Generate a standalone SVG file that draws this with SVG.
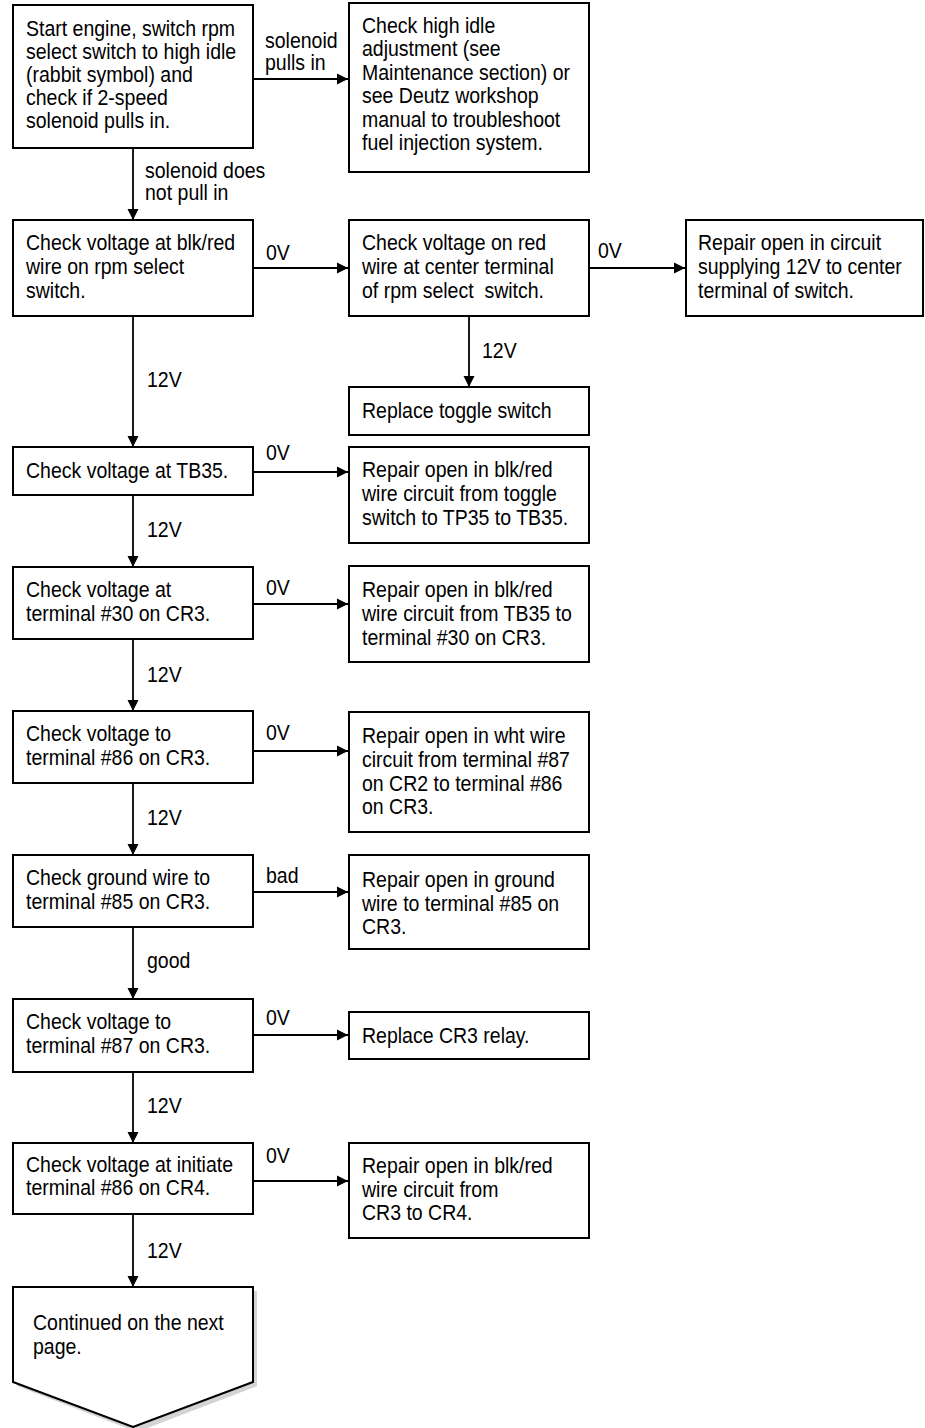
<svg xmlns="http://www.w3.org/2000/svg" width="925" height="1428" viewBox="0 0 925 1428">
<style>
text{font-family:"Liberation Sans",Arial,sans-serif;font-size:21.5px;fill:#000}
.box{fill:#fff;stroke:#000;stroke-width:2}
.c{stroke:#000;stroke-width:1.8;fill:none;marker-end:url(#ah)}
</style>
<defs>
<marker id="ah" markerUnits="userSpaceOnUse" markerWidth="12" markerHeight="12" refX="11" refY="6" orient="auto">
<path d="M0,0.5 L11,6 L0,11.5 z" fill="#000"/>
</marker>
</defs>
<rect width="925" height="1428" fill="#fff"/>
<g id="connectors">
<line class="c" x1="253" y1="79" x2="348" y2="79"/>
<line class="c" x1="133" y1="148" x2="133" y2="220"/>
<line class="c" x1="253" y1="268" x2="348" y2="268"/>
<line class="c" x1="589" y1="268" x2="685" y2="268"/>
<line class="c" x1="469" y1="316" x2="469" y2="387"/>
<line class="c" x1="133" y1="316" x2="133" y2="447"/>
<line class="c" x1="253" y1="472" x2="348" y2="472"/>
<line class="c" x1="133" y1="495" x2="133" y2="567"/>
<line class="c" x1="253" y1="604" x2="348" y2="604"/>
<line class="c" x1="133" y1="639" x2="133" y2="711"/>
<line class="c" x1="253" y1="751" x2="348" y2="751"/>
<line class="c" x1="133" y1="783" x2="133" y2="855"/>
<line class="c" x1="253" y1="892" x2="348" y2="892"/>
<line class="c" x1="133" y1="927" x2="133" y2="999"/>
<line class="c" x1="253" y1="1035" x2="348" y2="1035"/>
<line class="c" x1="133" y1="1072" x2="133" y2="1143"/>
<line class="c" x1="253" y1="1181" x2="348" y2="1181"/>
<line class="c" x1="133" y1="1214" x2="133" y2="1287"/>
<g transform="scale(0.907 1)">
<text x="292.2" y="48">solenoid</text>
<text x="292.2" y="70">pulls in</text>
<text x="159.9" y="178">solenoid does</text>
<text x="159.9" y="200">not pull in</text>
<text x="293.3" y="260">0V</text>
<text x="659.3" y="258">0V</text>
<text x="531.4" y="358">12V</text>
<text x="162.1" y="387">12V</text>
<text x="293.3" y="460">0V</text>
<text x="162.1" y="537">12V</text>
<text x="293.3" y="595">0V</text>
<text x="162.1" y="682">12V</text>
<text x="293.3" y="740">0V</text>
<text x="162.1" y="825">12V</text>
<text x="293.3" y="883">bad</text>
<text x="162.1" y="968">good</text>
<text x="293.3" y="1025">0V</text>
<text x="162.1" y="1113">12V</text>
<text x="293.3" y="1163">0V</text>
<text x="162.1" y="1258">12V</text>
</g>
</g>
<g id="n1">
<rect class="box" x="13" y="5" width="240" height="143"/>
<g transform="scale(0.907 1)">
<text x="28.7" y="36">Start engine, switch rpm</text>
<text x="28.7" y="59">select switch to high idle</text>
<text x="28.7" y="82">(rabbit symbol) and</text>
<text x="28.7" y="105">check if 2-speed</text>
<text x="28.7" y="128">solenoid pulls in.</text>
</g>
</g>
<g id="n2">
<rect class="box" x="349" y="3" width="240" height="169"/>
<g transform="scale(0.907 1)">
<text x="399.1" y="33">Check high idle</text>
<text x="399.1" y="56.5">adjustment (see</text>
<text x="399.1" y="80">Maintenance section) or</text>
<text x="399.1" y="103.5">see Deutz workshop</text>
<text x="399.1" y="127">manual to troubleshoot</text>
<text x="399.1" y="150">fuel injection system.</text>
</g>
</g>
<g id="n3">
<rect class="box" x="13" y="220" width="240" height="96"/>
<g transform="scale(0.907 1)">
<text x="28.7" y="250">Check voltage at blk/red</text>
<text x="28.7" y="274">wire on rpm select</text>
<text x="28.7" y="298">switch.</text>
</g>
</g>
<g id="n4">
<rect class="box" x="349" y="220" width="240" height="96"/>
<g transform="scale(0.907 1)">
<text x="399.1" y="250">Check voltage on red</text>
<text x="399.1" y="274">wire at center terminal</text>
<text x="399.1" y="298">of rpm select&#160; switch.</text>
</g>
</g>
<g id="n5">
<rect class="box" x="686" y="220" width="237" height="96"/>
<g transform="scale(0.907 1)">
<text x="769.6" y="250">Repair open in circuit</text>
<text x="769.6" y="274">supplying 12V to center</text>
<text x="769.6" y="298">terminal of switch.</text>
</g>
</g>
<g id="n6">
<rect class="box" x="349" y="387" width="240" height="48"/>
<g transform="scale(0.907 1)">
<text x="399.1" y="418">Replace toggle switch</text>
</g>
</g>
<g id="n7">
<rect class="box" x="13" y="447" width="240" height="48"/>
<g transform="scale(0.907 1)">
<text x="28.7" y="478">Check voltage at TB35.</text>
</g>
</g>
<g id="n8">
<rect class="box" x="349" y="447" width="240" height="96"/>
<g transform="scale(0.907 1)">
<text x="399.1" y="477">Repair open in blk/red</text>
<text x="399.1" y="501">wire circuit from toggle</text>
<text x="399.1" y="525">switch to TP35 to TB35.</text>
</g>
</g>
<g id="n9">
<rect class="box" x="13" y="567" width="240" height="72"/>
<g transform="scale(0.907 1)">
<text x="28.7" y="597">Check voltage at</text>
<text x="28.7" y="621">terminal #30 on CR3.</text>
</g>
</g>
<g id="n10">
<rect class="box" x="349" y="566" width="240" height="96"/>
<g transform="scale(0.907 1)">
<text x="399.1" y="597">Repair open in blk/red</text>
<text x="399.1" y="621">wire circuit from TB35 to</text>
<text x="399.1" y="645">terminal #30 on CR3.</text>
</g>
</g>
<g id="n11">
<rect class="box" x="13" y="711" width="240" height="72"/>
<g transform="scale(0.907 1)">
<text x="28.7" y="741">Check voltage to</text>
<text x="28.7" y="765">terminal #86 on CR3.</text>
</g>
</g>
<g id="n12">
<rect class="box" x="349" y="712" width="240" height="120"/>
<g transform="scale(0.907 1)">
<text x="399.1" y="743">Repair open in wht wire</text>
<text x="399.1" y="767">circuit from terminal #87</text>
<text x="399.1" y="791">on CR2 to terminal #86</text>
<text x="399.1" y="814">on CR3.</text>
</g>
</g>
<g id="n13">
<rect class="box" x="13" y="855" width="240" height="72"/>
<g transform="scale(0.907 1)">
<text x="28.7" y="885">Check ground wire to</text>
<text x="28.7" y="909">terminal #85 on CR3.</text>
</g>
</g>
<g id="n14">
<rect class="box" x="349" y="855" width="240" height="94"/>
<g transform="scale(0.907 1)">
<text x="399.1" y="887">Repair open in ground</text>
<text x="399.1" y="911">wire to terminal #85 on</text>
<text x="399.1" y="934">CR3.</text>
</g>
</g>
<g id="n15">
<rect class="box" x="13" y="999" width="240" height="73"/>
<g transform="scale(0.907 1)">
<text x="28.7" y="1029">Check voltage to</text>
<text x="28.7" y="1053">terminal #87 on CR3.</text>
</g>
</g>
<g id="n16">
<rect class="box" x="349" y="1012" width="240" height="47"/>
<g transform="scale(0.907 1)">
<text x="399.1" y="1043">Replace CR3 relay.</text>
</g>
</g>
<g id="n17">
<rect class="box" x="13" y="1143" width="240" height="71"/>
<g transform="scale(0.907 1)">
<text x="28.7" y="1172">Check voltage at initiate</text>
<text x="28.7" y="1195">terminal #86 on CR4.</text>
</g>
</g>
<g id="n18">
<rect class="box" x="349" y="1143" width="240" height="95"/>
<g transform="scale(0.907 1)">
<text x="399.1" y="1173">Repair open in blk/red</text>
<text x="399.1" y="1197">wire circuit from</text>
<text x="399.1" y="1220">CR3 to CR4.</text>
</g>
</g>
<g id="n19">
<polygon points="17,1291 257,1291 257,1386 137,1432 17,1386" fill="#d4d4d4"/>
<polygon class="box" points="13,1287 253,1287 253,1382 133,1427 13,1382"/>
<g transform="scale(0.907 1)">
<text x="36.4" y="1330">Continued on the next</text>
<text x="36.4" y="1354">page.</text>
</g>
</g>
</svg>
